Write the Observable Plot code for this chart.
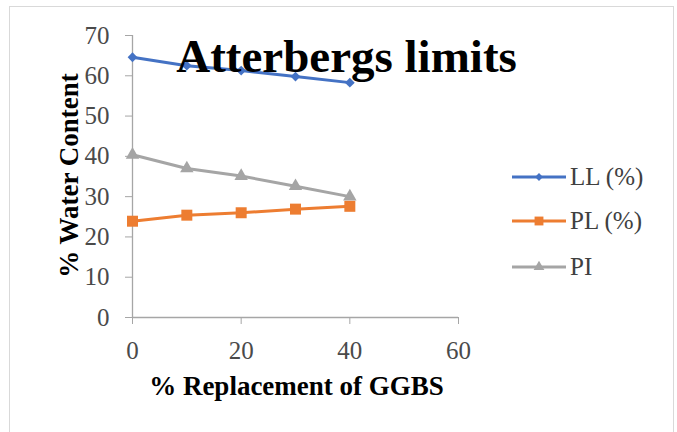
<!DOCTYPE html>
<html>
<head>
<meta charset="utf-8">
<script src="https://cdn.jsdelivr.net/npm/d3@7"></script>
<script src="https://cdn.jsdelivr.net/npm/@observablehq/plot@0.6"></script>
<style>
  html, body { margin: 0; padding: 0; background: #fff; }
  #wrap { position: relative; width: 677px; height: 432px; overflow: hidden; background: #fff;
          font-family: "Liberation Serif", "Times New Roman", serif; }
  #frame { position: absolute; left: 9px; top: 6px; width: 665px; height: 440px;
           border: 1px solid #d9d9d9; box-sizing: border-box; }
  #chart { position: absolute; left: 0; top: 0; }
  #legend { position: absolute; left: 512px; top: 0; }
  .item { position: absolute; left: 0; display: flex; align-items: center; white-space: nowrap;
          font-size: 25px; color: #404040; }
  .item svg { display: block; margin-right: 3px; }
</style>
</head>
<body>
<div id="wrap">
  <div id="frame"></div>
  <div id="chart"></div>
  <div id="legend"></div>
</div>
<script>
// GGBS replacement levels (%)
const replacement = [0, 10, 20, 30, 40];
// Atterberg limits, % water content
const llValues = [64.6, 62.5, 61.3, 59.8, 58.3];
const plValues = [23.9, 25.4, 26.0, 26.9, 27.6];
const piValues = [40.4, 37.0, 35.1, 32.6, 30.0];

const seriesNames = ["LL (%)", "PL (%)", "PI"];
const seriesColors = ["#4472c4", "#ed7d31", "#a5a5a5"];
const seriesSymbols = ["diamond2", "square", "triangle"];
const seriesRadius = [4.4, 6.2, 5.0];
const legendRadius = [3.5, 5.0, 4.0];

const xTicks = [0, 20, 40, 60];
const yTicks = [0, 10, 20, 30, 40, 50, 60, 70];

const titleText = "Atterbergs limits";
const xLabel = "% Replacement of GGBS";
const yLabel = "% Water Content";

const seriesValues = [llValues, plValues, piValues];
const rows = seriesValues.map((vals, i) =>
  replacement.map((x, j) => ({series: seriesNames[i], x, y: vals[j]})));

// PI first, then LL, then PL so the PL squares sit on top where they meet PI
const drawOrder = [2, 0, 1];
const seriesMarks = drawOrder.flatMap(i => [
  Plot.line(rows[i], {x: "x", y: "y", stroke: seriesColors[i], strokeWidth: 3}),
  Plot.dot(rows[i], {x: "x", y: "y", symbol: () => seriesSymbols[i], r: seriesRadius[i],
                     fill: seriesColors[i], stroke: "none"})
]);

const font = "'Liberation Serif', 'Times New Roman', serif";

const chart = Plot.plot({
  width: 677,
  height: 432,
  marginLeft: 132,
  marginRight: 219,
  marginTop: 35,
  marginBottom: 115,
  x: {domain: [0, 60]},
  y: {domain: [0, 70]},
  symbol: {type: "identity"},
  style: {background: "transparent", fontFamily: font, overflow: "visible"},
  marks: [
    Plot.axisX({ticks: xTicks, tickSize: 7, tickPadding: 17, fontSize: 25,
                stroke: "#a6a6a6", fill: "#4a4a4a", label: null, tickFormat: d => String(d)}),
    Plot.axisY({ticks: yTicks, tickSize: 7, tickPadding: 16, fontSize: 25,
                stroke: "#a6a6a6", fill: "#4a4a4a", label: null, tickFormat: d => String(d)}),
    Plot.ruleX([0], {stroke: "#a6a6a6", strokeWidth: 1.3}),
    Plot.ruleY([0], {stroke: "#a6a6a6", strokeWidth: 1.3}),
    ...seriesMarks,
    Plot.text([xLabel], {text: d => d, frameAnchor: "bottom", dx: 1, dy: 77, lineAnchor: "bottom",
                         fontSize: 27, fontWeight: "bold", fill: "#000"}),
    Plot.text([yLabel], {text: d => d, frameAnchor: "left", textAnchor: "middle", dx: -55, dy: -1,
                         rotate: -90, lineAnchor: "bottom", fontSize: 27, fontWeight: "bold", fill: "#000"}),
    Plot.text([titleText], {text: d => d, frameAnchor: "top", dx: 51, dy: 36, lineAnchor: "bottom",
                            fontSize: 47, fontWeight: "bold", fill: "#000"})
  ]
});
document.getElementById("chart").append(chart);

// Legend: line with marker, then the series name
const symbolTypes = {diamond2: d3.symbolDiamond2, square: d3.symbolSquare, triangle: d3.symbolTriangle};
const legendTops = [177, 221, 267];
const legend = d3.select("#legend");
seriesNames.forEach((name, i) => {
  const item = legend.append("div").attr("class", "item").style("top", (legendTops[i] - 15) + "px")
    .style("height", "30px");
  const svg = item.append("svg").attr("width", 55).attr("height", 30);
  svg.append("line").attr("x1", 0).attr("x2", 54).attr("y1", 15).attr("y2", 15)
    .attr("stroke", seriesColors[i]).attr("stroke-width", 3);
  const r = legendRadius[i];
  svg.append("path").attr("transform", "translate(27,15)")
    .attr("d", d3.symbol(symbolTypes[seriesSymbols[i]], Math.PI * r * r)())
    .attr("fill", seriesColors[i]);
  item.append("span").text(name);
});
</script>
</body>
</html>
